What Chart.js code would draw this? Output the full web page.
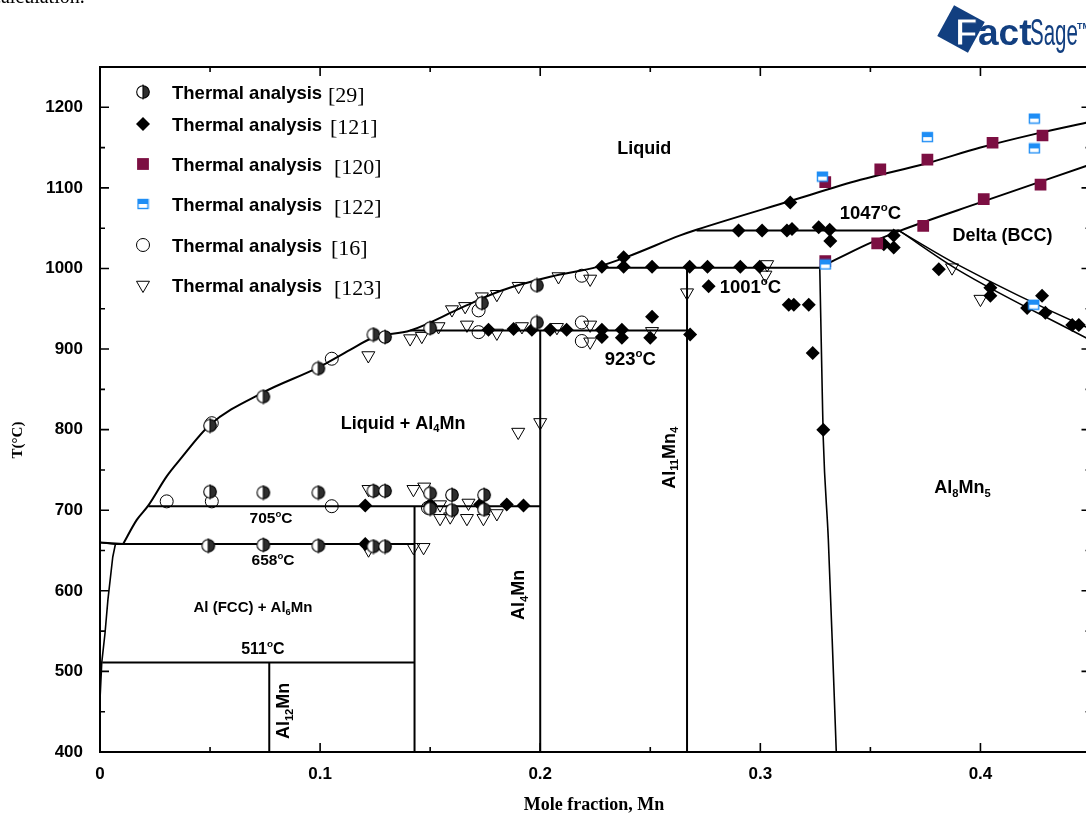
<!DOCTYPE html>
<html>
<head>
<meta charset="utf-8">
<title>Al-Mn phase diagram</title>
<script src="https://cdn.jsdelivr.net/npm/chart.js@4.4.1/dist/chart.umd.min.js"></script>
<style>
  html, body { margin: 0; padding: 0; background: #fff; overflow: hidden; }
  #wrap { position: relative; width: 1086px; height: 817px; overflow: hidden; }
  #chart { position: absolute; left: 0; top: 0; }
  #prev { position: absolute; left: -8px; top: -15px; font: 20px "Liberation Serif", serif; color: #000; }
</style>
</head>
<body>
<div id="wrap">
  <canvas id="chart" width="1099" height="817"></canvas>
  <div id="prev">calculation.</div>
</div>
<script>
// axes
const xTicks = [0, 0.1, 0.2, 0.3, 0.4];
const xTickLabels = ["0", "0.1", "0.2", "0.3", "0.4"];
const xMinor = [0.05, 0.15, 0.25, 0.35];
const yTicks = [400, 500, 600, 700, 800, 900, 1000, 1100, 1200];
const yTickLabels = ["400", "500", "600", "700", "800", "900", "1000", "1100", "1200"];
const yMinor = [450, 550, 650, 750, 850, 950, 1050, 1150];

// calculated phase boundaries, [mole fraction Mn, T in °C]
const liquidusAl = [[0, 660], [0.0105, 658]];
const liquidus = [
  [0.0105, 658], [0.0167, 688], [0.022, 706], [0.0303, 742], [0.0364, 763], [0.05, 806],
  [0.074, 846], [0.099, 877], [0.1136, 899], [0.124, 914], [0.141, 923], [0.164, 951],
  [0.1818, 972], [0.205, 990], [0.226, 1002], [0.24, 1015], [0.2636, 1041], [0.271, 1048],
  [0.314, 1084], [0.3455, 1110], [0.375, 1130], [0.40, 1150], [0.425, 1167], [0.45, 1182]
];
const solvusFcc = [
  [0, 660], [0.007, 658], [0.0058, 642], [0.0036, 589], [0.0023, 548], [0.0008, 511], [0, 465], [0, 400]
];
const deltaLiquidus = [[0.327, 1001], [0.3485, 1030], [0.3636, 1047], [0.40, 1082], [0.45, 1129]];
const deltaSolvusA = [[0.3623, 1048], [0.3894, 1005], [0.4482, 927], [0.45, 925]];
const deltaSolvusB = [[0.3636, 1046], [0.3894, 999], [0.45, 911]];
const al8mn5Edge = [[0.327, 1001], [0.3282, 837], [0.3286, 788], [0.3309, 663], [0.3332, 498], [0.3345, 400]];

// invariant reactions
const eut511 = [[0.001, 511], [0.1429, 511]];
const eut658 = [[0.007, 658], [0.1429, 658]];
const per705 = [[0.022, 705], [0.2, 705]];
const per923 = [[0.141, 923], [0.2667, 923]];
const per1001 = [[0.226, 1001], [0.327, 1001]];
const per1047 = [[0.271, 1047], [0.3636, 1047]];

// stoichiometric compounds
const al12mn = [[0.0769, 400], [0.0769, 511]];
const al6mn = [[0.1429, 400], [0.1429, 705]];
const al4mn = [[0.2, 400], [0.2, 923]];
const al11mn4 = [[0.2667, 400], [0.2667, 1001]];

// thermal analysis data
const ta29 = [
  [0.05, 805], [0.0742, 841], [0.0992, 876], [0.1242, 918], [0.1295, 915], [0.15, 926],
  [0.1735, 957], [0.1985, 979], [0.1985, 933],
  [0.05, 723], [0.0742, 722], [0.0992, 722], [0.1242, 724], [0.1295, 724], [0.15, 721],
  [0.1599, 719], [0.1745, 719], [0.15, 702], [0.1599, 700], [0.1745, 701],
  [0.0492, 656], [0.0742, 657], [0.0992, 656], [0.1242, 655], [0.1295, 655]
];
const ta121 = [
  [0.1205, 706], [0.15, 707], [0.1727, 707], [0.1848, 707], [0.1924, 706], [0.1205, 658],
  [0.1765, 924], [0.1879, 925], [0.1962, 924], [0.2045, 924], [0.212, 924], [0.228, 924],
  [0.228, 915], [0.2371, 924], [0.2371, 914], [0.2508, 940], [0.25, 914], [0.2681, 918],
  [0.228, 1002], [0.2379, 1002], [0.2379, 1014], [0.2508, 1002], [0.2679, 1002], [0.276, 1002],
  [0.2909, 1002], [0.2997, 1002], [0.2765, 978],
  [0.3129, 955], [0.3152, 955], [0.322, 955], [0.3238, 895], [0.3286, 800],
  [0.2901, 1047], [0.3008, 1047], [0.3121, 1047], [0.3144, 1049], [0.3265, 1051], [0.3315, 1048],
  [0.3318, 1034], [0.3136, 1082],
  [0.3561, 1030], [0.3606, 1041], [0.3606, 1026], [0.3811, 999], [0.4045, 976], [0.4045, 966],
  [0.4212, 951], [0.428, 966], [0.4295, 945], [0.4417, 930], [0.4447, 930]
];
const ta120 = [
  [0.3295, 1107], [0.3545, 1123], [0.3759, 1135], [0.4055, 1156], [0.4282, 1165],
  [0.4273, 1104], [0.4015, 1086], [0.374, 1053], [0.3531, 1031], [0.3295, 1009]
];
const ta122 = [[0.3282, 1114], [0.3759, 1163], [0.4245, 1186], [0.4245, 1149], [0.3295, 1005], [0.4242, 955]];
const ta16 = [
  [0.0303, 711], [0.0508, 711], [0.1053, 705], [0.0508, 808], [0.1053, 888], [0.149, 703],
  [0.172, 948], [0.172, 921], [0.2189, 991], [0.2189, 933], [0.2189, 910]
];
const ta123 = [
  [0.1219, 892], [0.1409, 913], [0.1462, 916], [0.1538, 928], [0.1599, 949], [0.1659, 953],
  [0.1735, 965], [0.1803, 968], [0.1902, 978], [0.2083, 990], [0.2227, 987],
  [0.1667, 930], [0.1803, 920], [0.1917, 928], [0.2076, 927], [0.2227, 930], [0.2227, 909], [0.2508, 922],
  [0.3031, 1005], [0.3023, 992], [0.2667, 970],
  [0.122, 726], [0.1424, 726], [0.1473, 729], [0.1545, 690], [0.1591, 692], [0.1667, 690],
  [0.1742, 690], [0.1803, 696], [0.1545, 707], [0.1674, 709],
  [0.1424, 654], [0.147, 654], [0.122, 651],
  [0.3871, 1001], [0.40, 962], [0.2, 809], [0.19, 797]
];
const refs = ["[29]", "[121]", "[120]", "[122]", "[16]", "[123]"];

const SANS = '"Liberation Sans", Arial, sans-serif';
const SERIF = '"Liberation Serif", "Times New Roman", serif';
const MAROON = "#7c0f42";
const BLUE = "#1f8ef5";

// half filled circle used by [29]
const halfDisc = (() => {
  const c = document.createElement("canvas");
  c.width = 16; c.height = 16;
  const g = c.getContext("2d");
  g.fillStyle = "#fff";
  g.beginPath(); g.arc(8, 8, 6.3, 0, Math.PI * 2); g.fill();
  g.fillStyle = "#2e2e2e";
  g.beginPath(); g.moveTo(8, 8); g.arc(8, 8, 6.3, -Math.PI / 2, Math.PI / 2); g.closePath(); g.fill();
  g.strokeStyle = "#000"; g.lineWidth = 1.1;
  g.beginPath(); g.arc(8, 8, 6.3, 0, Math.PI * 2); g.stroke();
  g.beginPath(); g.moveTo(8, 0.5); g.lineTo(8, 15.5); g.stroke();
  return c;
})();

// half filled square used by [122]
const halfSquare = (() => {
  const c = document.createElement("canvas");
  c.width = 13; c.height = 12;
  const g = c.getContext("2d");
  g.fillStyle = "#fff"; g.fillRect(1, 1, 11, 10);
  g.fillStyle = BLUE; g.fillRect(1, 1, 11, 5);
  g.strokeStyle = BLUE; g.lineWidth = 1.4; g.strokeRect(1.5, 1.5, 10, 9);
  return c;
})();

const markStyles = {
  half: { pointStyle: halfDisc, pointRadius: 7 },
  diamond: { pointStyle: "rectRot", pointRadius: 7, pointBackgroundColor: "#000", pointBorderColor: "#000", pointBorderWidth: 0 },
  square: { pointStyle: "rect", pointRadius: 8.3, pointBackgroundColor: MAROON, pointBorderColor: MAROON, pointBorderWidth: 0 },
  blue: { pointStyle: halfSquare, pointRadius: 7 },
  circle: { pointStyle: "circle", pointRadius: 6.5, pointBackgroundColor: "rgba(0,0,0,0)", pointBorderColor: "#000", pointBorderWidth: 1 },
  tri: { pointStyle: "triangle", pointRotation: 180, pointRadius: 7.5, pointBackgroundColor: "rgba(0,0,0,0)", pointBorderColor: "#000", pointBorderWidth: 1 }
};

const toXY = pts => pts.map(([x, y]) => ({ x, y }));

function boundary(pts, width, smooth) {
  return {
    data: toXY(pts),
    showLine: true,
    borderColor: "#000",
    borderWidth: width || 2,
    pointRadius: 0,
    pointHoverRadius: 0,
    tension: 0,
    cubicInterpolationMode: smooth ? "monotone" : "default",
    order: 10
  };
}

function marks(pts, kind, order) {
  return Object.assign({ data: toXY(pts), showLine: false, order }, markStyles[kind]);
}

const datasets = [
  boundary(liquidusAl), boundary(liquidus, 2, true), boundary(solvusFcc, 1.6),
  boundary(deltaLiquidus, 2, true), boundary(deltaSolvusA, 1.5, true), boundary(deltaSolvusB, 1.5, true),
  boundary(al8mn5Edge, 1.6, true),
  boundary(eut511), boundary(eut658), boundary(per705), boundary(per923), boundary(per1001), boundary(per1047),
  boundary(al12mn), boundary(al6mn), boundary(al4mn), boundary(al11mn4),
  marks(ta121, "diamond", 5), marks(ta120, "square", 4), marks(ta122, "blue", 3),
  marks(ta123, "tri", 2), marks(ta16, "circle", 1), marks(ta29, "half", 0)
];
const legendKinds = ["half", "diamond", "square", "blue", "circle", "tri"];

// labels inside the diagram, anchored in data units
const notes = [
  { x: 0.2473, t: 1150, size: 18, parts: [["Liquid"]] },
  { x: 0.1377, t: 809, size: 18, parts: [["Liquid + Al"], ["4", "sub"], ["Mn"]] },
  { x: 0.2409, t: 889, size: 18.5, parts: [["923"], ["o", "sup"], ["C"]] },
  { x: 0.2955, t: 977.5, size: 18.5, parts: [["1001"], ["o", "sup"], ["C"]] },
  { x: 0.35, t: 1070, size: 18.5, parts: [["1047"], ["o", "sup"], ["C"]] },
  { x: 0.41, t: 1042, size: 18, parts: [["Delta (BCC)"]] },
  { x: 0.3918, t: 729, size: 18, parts: [["Al"], ["8", "sub"], ["Mn"], ["5", "sub"]] },
  { x: 0.0777, t: 690.5, size: 15.5, parts: [["705"], ["o", "sup"], ["C"]] },
  { x: 0.0786, t: 638.5, size: 15.5, parts: [["658"], ["o", "sup"], ["C"]] },
  { x: 0.0695, t: 581, size: 15, parts: [["Al (FCC) + Al"], ["6", "sub"], ["Mn"]] },
  { x: 0.074, t: 529, size: 16, parts: [["511"], ["o", "sup"], ["C"]] },
  { x: 0.083, t: 451, size: 18, rot: true, parts: [["Al"], ["12", "sub"], ["Mn"]] },
  { x: 0.1898, t: 595, size: 18, rot: true, parts: [["Al"], ["4", "sub"], ["Mn"]] },
  { x: 0.2582, t: 765, size: 18, rot: true, parts: [["Al"], ["11", "sub"], ["Mn"], ["4", "sub"]] }
];

function drawRich(ctx, parts, cx, cy, size, rot) {
  const fontFor = m => `bold ${m ? size * 0.62 : size}px ${SANS}`;
  let w = 0;
  for (const [s, m] of parts) { ctx.font = fontFor(m); w += ctx.measureText(s).width; }
  ctx.save();
  ctx.translate(cx, cy);
  if (rot) ctx.rotate(-Math.PI / 2);
  ctx.textAlign = "left";
  ctx.textBaseline = "alphabetic";
  ctx.fillStyle = "#000";
  let x = -w / 2;
  const base = size * 0.36;
  for (const [s, m] of parts) {
    ctx.font = fontFor(m);
    const dy = m === "sub" ? size * 0.2 : m === "sup" ? -size * 0.42 : 0;
    ctx.fillText(s, x, base + dy);
    x += ctx.measureText(s).width;
  }
  ctx.restore();
}

function drawMark(ctx, kind, x, y) {
  ctx.save();
  ctx.fillStyle = "#000";
  ctx.strokeStyle = "#000";
  ctx.lineWidth = 1;
  if (kind === "half") ctx.drawImage(halfDisc, x - 8, y - 8);
  else if (kind === "blue") ctx.drawImage(halfSquare, x - 6.5, y - 6);
  else if (kind === "diamond") {
    ctx.beginPath(); ctx.moveTo(x - 7, y); ctx.lineTo(x, y - 7); ctx.lineTo(x + 7, y); ctx.lineTo(x, y + 7);
    ctx.closePath(); ctx.fill();
  } else if (kind === "square") {
    ctx.fillStyle = MAROON; ctx.fillRect(x - 5.9, y - 5.9, 11.8, 11.8);
  } else if (kind === "circle") {
    ctx.beginPath(); ctx.arc(x, y, 6.5, 0, Math.PI * 2); ctx.stroke();
  } else if (kind === "tri") {
    const r = 7.5;
    ctx.beginPath();
    ctx.moveTo(x, y + r);
    ctx.lineTo(x - r * 0.866, y - r / 2);
    ctx.lineTo(x + r * 0.866, y - r / 2);
    ctx.closePath(); ctx.stroke();
  }
  ctx.restore();
}

function drawLogo(ctx) {
  const navy = "#123f80";
  ctx.save();
  ctx.translate(961, 29);
  ctx.rotate(28.7 * Math.PI / 180);
  ctx.fillStyle = navy;
  ctx.fillRect(-17.5, -17.5, 35, 35);
  ctx.restore();
  ctx.save();
  ctx.textBaseline = "alphabetic";
  ctx.font = `bold 37px ${SANS}`;
  ctx.fillStyle = "#fff";
  ctx.strokeStyle = navy;
  ctx.lineWidth = 1.2;
  ctx.fillText("F", 955, 45);
  ctx.strokeText("F", 955, 45);
  ctx.fillStyle = navy;
  ctx.fillText("act", 978, 45);
  ctx.save();
  ctx.translate(1030, 45);
  ctx.scale(0.57, 1);
  ctx.font = `36px ${SANS}`;
  ctx.fillText("Sage", 0, 0);
  ctx.restore();
  ctx.font = `bold 9px ${SANS}`;
  ctx.fillText("TM", 1077, 29);
  ctx.restore();
}

const decor = {
  id: "decor",
  afterDatasetsDraw(chart) {
    const { ctx, scales: { x, y } } = chart;
    for (const n of notes) {
      drawRich(ctx, n.parts, x.getPixelForValue(n.x), y.getPixelForValue(n.t), n.size, n.rot);
    }
  },
  afterDraw(chart) {
    const { ctx, chartArea: a, scales: { x, y } } = chart;
    ctx.save();
    ctx.strokeStyle = "#000";
    ctx.lineWidth = 2;
    ctx.strokeRect(a.left, a.top, a.right - a.left, a.bottom - a.top);

    // inward tick marks on all four sides
    ctx.lineWidth = 1.6;
    ctx.beginPath();
    const xTick = (v, len) => {
      const px = x.getPixelForValue(v);
      ctx.moveTo(px, a.bottom); ctx.lineTo(px, a.bottom - len);
      ctx.moveTo(px, a.top); ctx.lineTo(px, a.top + len);
    };
    const yTick = (v, len) => {
      const py = y.getPixelForValue(v);
      ctx.moveTo(a.left, py); ctx.lineTo(a.left + len, py);
      ctx.moveTo(a.right, py); ctx.lineTo(a.right - len, py);
    };
    xTicks.forEach(v => xTick(v, 9));
    xMinor.forEach(v => xTick(v, 5));
    yTicks.forEach(v => yTick(v, 9));
    yMinor.forEach(v => yTick(v, 5));
    ctx.stroke();

    // axis titles
    ctx.fillStyle = "#000";
    ctx.textAlign = "center";
    ctx.textBaseline = "middle";
    ctx.font = `bold 18px ${SERIF}`;
    ctx.fillText("Mole fraction, Mn", 594, 805);
    ctx.save();
    ctx.translate(18, 440);
    ctx.rotate(-Math.PI / 2);
    ctx.font = `bold 15px ${SERIF}`;
    ctx.fillText("T(°C)", 0, 0);
    ctx.restore();

    // legend
    const rows = [92, 124, 164, 204, 245, 285];
    const refX = [328, 330, 334, 334, 331, 334];
    ctx.textAlign = "left";
    ctx.textBaseline = "alphabetic";
    rows.forEach((ry, i) => {
      drawMark(ctx, legendKinds[i], 143, ry);
      ctx.font = `bold 18.5px ${SANS}`;
      ctx.fillText("Thermal analysis", 172, ry + 6.5);
      ctx.font = `22px ${SERIF}`;
      ctx.fillText(refs[i], refX[i], ry + 10);
    });
    ctx.restore();

    drawLogo(ctx);
  }
};

new Chart(document.getElementById("chart"), {
  type: "scatter",
  data: { datasets },
  options: {
    responsive: false,
    animation: false,
    events: [],
    layout: { padding: { top: 67, right: 2, bottom: 0, left: 0 } },
    plugins: { legend: { display: false }, tooltip: { enabled: false } },
    scales: {
      x: {
        type: "linear",
        min: 0,
        max: 0.45,
        grid: { display: false, drawTicks: false },
        border: { display: false },
        afterFit: s => { s.height = 65; },
        afterBuildTicks: s => { s.ticks = xTicks.map(v => ({ value: v })); },
        ticks: {
          color: "#000",
          padding: 12,
          autoSkip: false,
          maxRotation: 0,
          font: { family: SANS, weight: "bold", size: 17 },
          callback: (v, i) => xTickLabels[i]
        }
      },
      y: {
        type: "linear",
        min: 400,
        max: 1250,
        grid: { display: false, drawTicks: false },
        border: { display: false },
        afterFit: s => { s.width = 100; },
        afterBuildTicks: s => { s.ticks = yTicks.map(v => ({ value: v })); },
        ticks: {
          color: "#000",
          padding: 17,
          autoSkip: false,
          font: { family: SANS, weight: "bold", size: 17 },
          callback: (v, i) => yTickLabels[i]
        }
      }
    }
  },
  plugins: [decor]
});
</script>
</body>
</html>
